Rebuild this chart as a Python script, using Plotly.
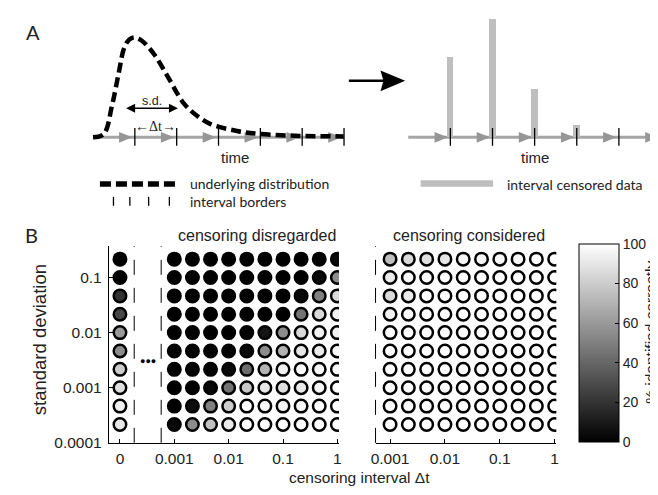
import plotly.graph_objects as go

W, H = 658, 495

# ---------------- Panel A data ----------------
interval_ticks = [1, 2, 3, 4, 5, 6]          # interval borders (time units)
curve_t = [0.0, 0.26, 0.45, 0.61, 0.75, 0.87, 0.99, 1.16, 1.46, 1.79, 2.17, 2.50, 2.81, 3.44, 3.99, 4.93, 5.99]
curve_density = [0.0, 0.035, 0.315, 0.645, 0.915, 0.995, 1.015, 0.985, 0.845, 0.615, 0.345, 0.215, 0.135, 0.065, 0.035, 0.015, 0.01]
censored_t = [1, 2, 3, 4]
censored_counts = [0.815, 1.20, 0.49, 0.125]

# ---------------- Panel B data ----------------
sd_values = [0.2154, 0.1, 0.04642, 0.02154, 0.01, 0.004642, 0.002154, 0.001, 0.0004642, 0.0002154]
dt_values = [0.001, 0.002154, 0.004642, 0.01, 0.02154, 0.04642, 0.1, 0.2154, 0.4642, 1.0]
dt_zero_pos = 0.0001   # column shown as "0"
x_tickvals_left = [0.0001, 0.001, 0.01, 0.1, 1]
x_ticktext_left = ["0", "0.001", "0.01", "0.1", "1"]
x_tickvals_right = [0.001, 0.01, 0.1, 1]
x_ticktext_right = ["0.001", "0.01", "0.1", "1"]
y_tickvals = [0.0001, 0.001, 0.01, 0.1]
y_ticktext = ["0.0001", "0.001", "0.01", "0.1"]
cb_ticks = [0, 20, 40, 60, 80, 100]

# % identified correctly; rows follow sd_values, first column = Δt 0, then dt_values
pct_disregarded = [
    [0, 0, 0, 0, 0, 0, 0, 0, 0, 0, 3],
    [0, 0, 0, 0, 0, 0, 0, 0, 0, 3, 55],
    [20, 0, 0, 0, 0, 0, 0, 0, 3, 50, 85],
    [28, 0, 0, 0, 0, 0, 0, 0, 45, 85, 95],
    [60, 0, 0, 0, 0, 0, 8, 55, 85, 95, 95],
    [55, 0, 0, 0, 0, 3, 55, 70, 90, 92, 97],
    [80, 0, 0, 0, 3, 42, 70, 95, 100, 97, 97],
    [88, 0, 0, 3, 45, 78, 90, 88, 92, 97, 100],
    [95, 0, 5, 50, 80, 100, 97, 95, 97, 100, 100],
    [90, 3, 55, 75, 92, 100, 100, 100, 100, 100, 100],
]
pct_considered = [
    [75, 85, 88, 90, 97, 97, 98, 98, 100, 100],
    [92, 97, 100, 100, 100, 100, 100, 100, 100, 100],
    [85, 92, 100, 100, 100, 100, 100, 100, 100, 100],
    [95, 98, 100, 100, 100, 100, 100, 100, 100, 100],
    [100, 100, 100, 100, 100, 100, 100, 100, 100, 100],
    [100, 100, 100, 100, 100, 100, 100, 100, 100, 100],
    [100, 100, 100, 100, 100, 100, 100, 100, 100, 100],
    [100, 100, 100, 100, 100, 100, 100, 100, 100, 100],
    [100, 100, 100, 100, 100, 100, 100, 100, 100, 100],
    [100, 100, 100, 100, 100, 100, 100, 100, 100, 100],
]

SANS = "Arial, Liberation Sans, sans-serif"
CAL = "Lato, Open Sans, sans-serif"
TXT = "#222222"


def px(x):
    return x / W


def py(y):
    return 1 - y / H


fig = go.Figure()

# ---- Panel B scatter grids ----
lx, ly, lc = [], [], []
for r, sd in enumerate(sd_values):
    cols = [dt_zero_pos] + dt_values
    for c, dt in enumerate(cols):
        lx.append(dt)
        ly.append(sd)
        lc.append(pct_disregarded[r][c])
rx, ry, rc = [], [], []
for r, sd in enumerate(sd_values):
    for c, dt in enumerate(dt_values):
        rx.append(dt)
        ry.append(sd)
        rc.append(pct_considered[r][c])

marker_common = dict(size=12.5, line=dict(color="black", width=2.5), coloraxis="coloraxis")
fig.add_trace(go.Scatter(x=lx, y=ly, mode="markers", marker=dict(color=lc, **marker_common),
                         xaxis="x", yaxis="y", showlegend=False, hoverinfo="skip"))
fig.add_trace(go.Scatter(x=rx, y=ry, mode="markers", marker=dict(color=rc, **marker_common),
                         xaxis="x2", yaxis="y2", showlegend=False, hoverinfo="skip"))

# ---- Panel A traces ----
fig.add_trace(go.Scatter(x=curve_t, y=curve_density, mode="lines", line_shape="spline",
                         line=dict(color="black", width=4.5, dash="10px,5px"),
                         xaxis="x3", yaxis="y3", showlegend=False, hoverinfo="skip"))
fig.add_trace(go.Bar(x=censored_t, y=censored_counts, width=0.155, marker=dict(color="rgb(190,190,190)", line_width=0),
                     xaxis="x4", yaxis="y4", showlegend=False, hoverinfo="skip"))

shapes = []
annotations = []

# time axes with arrows for both diagrams of panel A
for xr, yr, spacing, tick_layer in [("x3", "y3", 42.35, "below"), ("x4", "y4", 42.65, "above")]:
    shapes.append(dict(type="line", xref=xr, yref=yr, x0=0, x1=interval_ticks[-1], y0=0, y1=0,
                       line=dict(color="rgb(165,165,165)", width=3), layer="below"))
    for t in interval_ticks:
        tip = t - 2.5 / spacing
        base = t - 16.0 / spacing
        shapes.append(dict(type="path", xref=xr, yref=yr,
                           path=f"M {tip},0 L {base},0.055 L {base},-0.055 Z",
                           fillcolor="rgb(150,150,150)", line=dict(width=0), layer="below"))
        shapes.append(dict(type="line", xref=xr, yref=yr, x0=t, x1=t, y0=-0.085, y1=0.095,
                           line=dict(color="black", width=1.3), layer=tick_layer))

# big arrow between diagrams
shapes.append(dict(type="line", xref="paper", yref="paper", x0=px(340), x1=px(376), y0=py(74), y1=py(74),
                   line=dict(color="black", width=2.5)))
shapes.append(dict(type="path", xref="paper", yref="paper",
                   path=f"M {px(397)},{py(74)} L {px(372)},{py(63.5)} L {px(375)},{py(74)} L {px(372)},{py(84.5)} Z",
                   fillcolor="black", line=dict(width=0)))

# legend items of panel A
shapes.append(dict(type="line", xref="paper", yref="paper", x0=px(88), x1=px(164), y0=py(179), y1=py(179),
                   line=dict(color="black", width=5.5, dash="11px,5px")))
for bx in [101.7, 118.3, 137.3, 158.3]:
    shapes.append(dict(type="line", xref="paper", yref="paper", x0=px(bx), x1=px(bx), y0=py(192), y1=py(201),
                       line=dict(color="black", width=1.3)))
shapes.append(dict(type="rect", xref="paper", yref="paper", x0=px(412.7), x1=px(486), y0=py(175), y1=py(181.7),
                   fillcolor="rgb(190,190,190)", line=dict(width=0)))

# panel B dashed separators and right y axis
for dx in [122.7, 150.0, 367.0]:
    shapes.append(dict(type="line", xref="paper", yref="paper", x0=px(dx), x1=px(dx), y0=py(442), y1=py(242),
                       line=dict(color="black", width=1, dash="15px,13px")))

# s.d. double arrow
annotations.append(dict(xref="x3", yref="y3", axref="x3", ayref="y3", x=2.03, y=0.295, ax=0.756, ay=0.295,
                        showarrow=True, arrowside="end+start", arrowhead=2, arrowsize=1.2, arrowwidth=1.5,
                        arrowcolor="black", text=""))


def text(x, y, s, size, family=SANS, xanchor="center", angle=0, color=TXT):
    annotations.append(dict(xref="paper", yref="paper", x=px(x), y=py(y), text=s, showarrow=False,
                            xanchor=xanchor, yanchor="middle", textangle=angle,
                            font=dict(size=size, family=family, color=color)))


text(20, 24, "A", 20, CAL)
text(19, 231, "B", 20, CAL)
text(141, 95, "s.d.", 12.5)
text(144, 120, "←Δt→", 14, "Liberation Serif, serif")
text(225, 152, "time", 15)
text(528, 152, "time", 15)
text(177, 178, "underlying distribution", 14, CAL, xanchor="left")
text(177, 197, "interval borders", 14, CAL, xanchor="left")
text(498, 179, "interval censored data", 14, CAL, xanchor="left")
text(247.5, 231, "censoring disregarded", 16)
text(461.5, 231.5, "censoring considered", 16)
text(351, 477.5, "censoring interval Δt", 15.5)
text(27, 337, "standard deviation", 18.5, angle=-90)
text(646, 330, "% identified correctly", 15.5, angle=-90)
text(137, 359, "●●●", 9, color="black")

axis_common = dict(showgrid=False, zeroline=False, showline=True, linecolor="black", linewidth=1,
                   ticks="inside", ticklen=4, tickcolor="black", tickfont=dict(size=15.5, family=SANS, color=TXT))

fig.update_layout(
    width=W, height=H, margin=dict(l=0, r=0, t=0, b=0),
    paper_bgcolor="white", plot_bgcolor="rgba(0,0,0,0)",
    xaxis=dict(domain=[px(97), px(330)], type="log", range=[-4.205, 0.03], anchor="y",
               tickvals=x_tickvals_left, ticktext=x_ticktext_left, ticklabelstandoff=2, **axis_common),
    yaxis=dict(domain=[py(442), py(242)], type="log", range=[-4, -0.43], anchor="x",
               tickvals=y_tickvals, ticktext=y_ticktext, ticklabelstandoff=3, **axis_common),
    xaxis2=dict(domain=[px(367), px(550)], type="log", range=[-3.265, 0.03], anchor="y2",
                tickvals=x_tickvals_right, ticktext=x_ticktext_right, ticklabelstandoff=2, **axis_common),
    yaxis2=dict(domain=[py(442), py(242)], type="log", range=[-4, -0.43], anchor="x2",
                showline=False, showticklabels=False, ticks="", showgrid=False, zeroline=False),
    xaxis3=dict(domain=[px(71), px(345)], range=[(71 - 81) / 42.35, (345 - 81) / 42.35], anchor="y3", visible=False),
    yaxis3=dict(domain=[py(145), 1], range=[-0.135, 1.315], anchor="x3", visible=False),
    xaxis4=dict(domain=[px(390), 1], range=[(390 - 400.1) / 42.65, (658 - 400.1) / 42.65], anchor="y4", visible=False),
    yaxis4=dict(domain=[py(145), 1], range=[-0.135, 1.315], anchor="x4", visible=False),
    coloraxis=dict(cmin=0, cmax=100, colorscale=[[0, "black"], [1, "white"]],
                   colorbar=dict(x=px(573), xanchor="left", y=py(441), yanchor="bottom",
                                 len=201 / H, lenmode="fraction", thickness=40, thicknessmode="pixels",
                                 xpad=0, ypad=0, outlinewidth=1, outlinecolor="black",
                                 tickvals=cb_ticks, ticks="inside", ticklen=4, tickcolor="black",
                                 tickfont=dict(size=14, family=SANS, color=TXT))),
    shapes=shapes, annotations=annotations, bargap=0,
)

fig.write_html("out.html")
